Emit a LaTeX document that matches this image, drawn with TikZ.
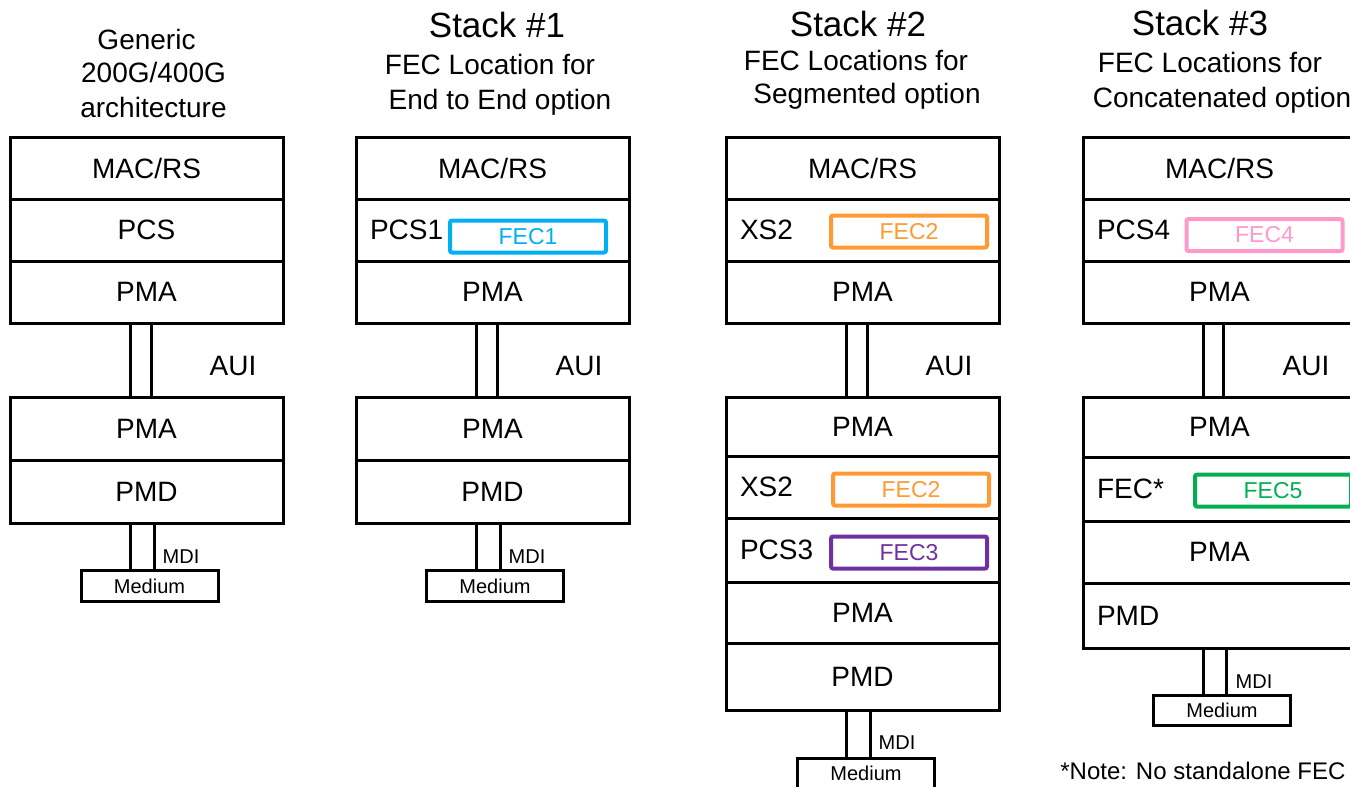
\documentclass[tikz,border=0pt]{standalone}
\usepackage{fontspec}
\setmainfont{Liberation Sans}
\usetikzlibrary{positioning}

\definecolor{fecblue}{RGB}{0,176,240}
\definecolor{fecorange}{RGB}{255,153,51}
\definecolor{fecpurple}{RGB}{112,48,160}
\definecolor{fecpink}{RGB}{255,153,204}
\definecolor{fecgreen}{RGB}{0,176,80}

\tikzset{
  layer/.style={draw, line width=1.5pt, minimum width=136.5pt, minimum height=31pt, inner sep=0pt, outer sep=0pt, font=\fontsize{14}{17}\selectfont},
  layerl/.style={layer, text width=122.5pt, inner xsep=7pt, align=left},
  fecbox/.style={draw=#1, text=#1, line width=2pt, rounded corners=1pt, minimum width=78pt, minimum height=16pt, inner sep=0pt, font=\fontsize{11.5}{14}\selectfont},
  medium/.style={draw, line width=1.5pt, minimum width=68.5pt, minimum height=15.5pt, inner sep=0pt, outer sep=0pt, font=\fontsize{10}{12}\selectfont},
  link/.style={line width=1.5pt},
  small/.style={font=\fontsize{10}{12}\selectfont},
  plain/.style={font=\fontsize{14}{17}\selectfont},
  head/.style={font=\fontsize{17.5}{21}\selectfont}
}

\begin{document}
\begin{tikzpicture}[x=0.5pt,y=-0.5pt]
\useasboundingbox (0,0) rectangle (1350,787);
\clip (0,0) rectangle (1350,787);

% generic
\node[plain,anchor=base] (gt1) at (146.5,49) {Generic};
\node[plain,anchor=base] (gt2) at (153.5,82) {200G/400G};
\node[plain,anchor=base] (gt3) at (153.5,117) {architecture};
\node[layer] (gmac) at (146.5,168) {MAC/RS};
\node[layer] (gpcs) at (146.5,230) {PCS};
\node[layer] (gpma) at (146.5,292) {PMA};
\node[layer,minimum height=31.5pt] (gpma2) at (146.5,428.5) {PMA};
\node[layer,minimum height=31.5pt] (gpmd) at (146.5,491.5) {PMD};
\node[medium] (gmed) at (149.5,586) {Medium};
\draw[link] ([xshift=-8.25pt]gpma.south) -- ([xshift=-8.25pt]gpma2.north);
\draw[link] ([xshift=2.5pt]gpma.south) -- ([xshift=2.5pt]gpma2.north);
\draw[link] ([xshift=-8.25pt]gpmd.south) -- ([xshift=-8.25pt]gpmd.south |- gmed.north);
\draw[link] ([xshift=3.75pt]gpmd.south) -- ([xshift=3.75pt]gpmd.south |- gmed.north);
\node[plain] (gaui) at (233,366) {AUI};
\node[small] (gmdi) at (181,557) {MDI};

% stack 1
\node[head,anchor=base] (s1head) at (497,38) {Stack \#1};
\node[plain,anchor=base] (s1t1) at (490,74) {FEC Location for};
\node[plain,anchor=base] (s1t2) at (500,109) {End to End option};
\node[layer] (s1mac) at (492.5,168) {MAC/RS};
\node[layerl] (s1pcs) at (492.5,230) {PCS1};
\node[fecbox=fecblue] (fec1) at (528,236.5) {FEC1};
\node[layer] (s1pma) at (492.5,292) {PMA};
\node[layer,minimum height=31.5pt] (s1pma2) at (492.5,428.5) {PMA};
\node[layer,minimum height=31.5pt] (s1pmd) at (492.5,491.5) {PMD};
\node[medium] (s1med) at (495,586) {Medium};
\draw[link] ([xshift=-8.25pt]s1pma.south) -- ([xshift=-8.25pt]s1pma2.north);
\draw[link] ([xshift=2.5pt]s1pma.south) -- ([xshift=2.5pt]s1pma2.north);
\draw[link] ([xshift=-8.25pt]s1pmd.south) -- ([xshift=-8.25pt]s1pmd.south |- s1med.north);
\draw[link] ([xshift=3.75pt]s1pmd.south) -- ([xshift=3.75pt]s1pmd.south |- s1med.north);
\node[plain] (s1aui) at (579,366) {AUI};
\node[small] (s1mdi) at (527,557) {MDI};

% stack 2
\node[head,anchor=base] (s2head) at (858,36) {Stack \#2};
\node[plain,anchor=base] (s2t1) at (856,70) {FEC Locations for};
\node[plain,anchor=base] (s2t2) at (867,103) {Segmented option};
\node[layer] (s2mac) at (862.5,168) {MAC/RS};
\node[layerl] (s2xs) at (862.5,230) {XS2};
\node[fecbox=fecorange] (fec2a) at (909,231.5) {FEC2};
\node[layer] (s2pma) at (862.5,292) {PMA};
\node[layer,minimum height=29.5pt] (s2pma2) at (862.5,426.5) {PMA};
\node[layerl,minimum height=31pt] (s2xs2) at (862.5,487) {XS2};
\node[fecbox=fecorange] (fec2b) at (911,489.5) {FEC2};
\node[layerl,minimum height=32pt] (s2pcs) at (862.5,550) {PCS3};
\node[fecbox=fecpurple] (fec3) at (909,552.5) {FEC3};
\node[layer,minimum height=30.5pt] (s2pma3) at (862.5,612.5) {PMA};
\node[layer,minimum height=33.5pt] (s2pmd) at (862.5,676.5) {PMD};
\node[medium] (s2med) at (866,773.5) {Medium};
\draw[link] ([xshift=-8.25pt]s2pma.south) -- ([xshift=-8.25pt]s2pma2.north);
\draw[link] ([xshift=2.5pt]s2pma.south) -- ([xshift=2.5pt]s2pma2.north);
\draw[link] ([xshift=-8.25pt]s2pmd.south) -- ([xshift=-8.25pt]s2pmd.south |- s2med.north);
\draw[link] ([xshift=3.75pt]s2pmd.south) -- ([xshift=3.75pt]s2pmd.south |- s2med.north);
\node[plain] (s2aui) at (949,366) {AUI};
\node[small] (s2mdi) at (897,743) {MDI};

% stack 3
\node[head,anchor=base] (s3head) at (1200,35) {Stack \#3};
\node[plain,anchor=base] (s3t1) at (1210,72) {FEC Locations for};
\node[plain,anchor=base] (s3t2) at (1222,107) {Concatenated option};
\node[layer] (s3mac) at (1219.5,168) {MAC/RS};
\node[layerl] (s3pcs) at (1219.5,230) {PCS4};
\node[fecbox=fecpink] (fec4) at (1264.5,235) {FEC4};
\node[layer] (s3pma) at (1219.5,292) {PMA};
\node[layer,minimum height=30pt] (s3pma2) at (1219.5,427) {PMA};
\node[layerl,minimum height=32pt] (s3fec) at (1219.5,489) {FEC*};
\node[fecbox=fecgreen] (fec5) at (1273,490.5) {FEC5};
\node[layer,minimum height=31pt] (s3pma3) at (1219.5,552) {PMA};
\node[layerl,minimum height=32.5pt] (s3pmd) at (1219.5,615.5) {PMD};
\node[medium,minimum height=15pt] (s3med) at (1222,710) {Medium};
\draw[link] ([xshift=-8.25pt]s3pma.south) -- ([xshift=-8.25pt]s3pma2.north);
\draw[link] ([xshift=2pt]s3pma.south) -- ([xshift=2pt]s3pma2.north);
\draw[link] ([xshift=-8.25pt]s3pmd.south) -- ([xshift=-8.25pt]s3pmd.south |- s3med.north);
\draw[link] ([xshift=3.25pt]s3pmd.south) -- ([xshift=3.25pt]s3pmd.south |- s3med.north);
\node[plain] (s3aui) at (1306,366) {AUI};
\node[small] (s3mdi) at (1254,682) {MDI};
\node[font=\fontsize{12}{14}\selectfont,anchor=west,inner sep=0pt] (note) at (1060,771) {*Note: No standalone FEC};
\end{tikzpicture}
\end{document}
